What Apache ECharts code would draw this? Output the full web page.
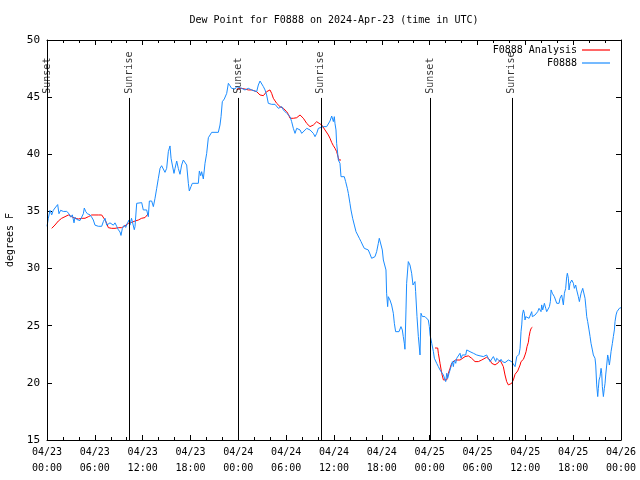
<!DOCTYPE html>
<html><head><meta charset="utf-8">
<script src="https://cdn.jsdelivr.net/npm/echarts@6/dist/echarts.min.js"></script>
<style>html,body{margin:0;padding:0;background:#fff}#c{width:640px;height:480px}</style>
</head><body><div id="c"></div>
<script>
const titleText = 'Dew Point for F0888 on 2024-Apr-23 (time in UTC)';
const yAxisName = 'degrees F';
const xTickLabels = ['04/23\n00:00','04/23\n06:00','04/23\n12:00','04/23\n18:00','04/24\n00:00','04/24\n06:00','04/24\n12:00','04/24\n18:00','04/25\n00:00','04/25\n06:00','04/25\n12:00','04/25\n18:00','04/26\n00:00'];
const seriesNames = ['F0888 Analysis', 'F0888'];
// hours since 04/23 00:00 UTC, dew point (F)
const obsData = [
[0,33.7],[0.17,34.4],[0.38,35.1],[0.59,34.7],[0.79,35.1],[1.0,35.3],[1.34,35.6],[1.5,34.8],[1.71,35.1],[2.05,35.0],[2.47,35.0],[2.76,34.8],[2.97,34.5],[3.18,34.7],[3.39,34.0],[3.51,34.5],[3.72,34.3],[3.93,34.4],[4.14,34.2],[4.35,34.5],[4.56,34.8],[4.68,35.3],[4.85,35.0],[5.06,34.8],[5.39,34.7],[5.6,34.5],[5.81,34.25],[6.02,33.8],[6.44,33.7],[6.86,33.7],[7.06,34.1],[7.28,34.4],[7.49,33.8],[7.69,33.7],[7.9,34.0],[8.11,34.1],[8.32,33.8],[8.53,34.0],[8.74,33.7],[8.95,33.4],[9.16,33.2],[9.28,32.9],[9.45,33.5],[9.7,33.8],[9.87,33.6],[10.1,34.0],[10.3,34.25],[10.4,33.8],[10.6,34.4],[10.8,34.3],[10.95,33.4],
[11.04,33.67],[11.25,35.71],[11.46,35.86],[11.88,35.77],[12.08,35.13],[12.29,34.98],[12.5,35.13],[12.71,34.54],[12.84,35.91],[13.13,35.91],[13.34,35.42],[13.55,36.15],[13.76,37.02],[13.97,37.9],[14.18,38.77],[14.38,39.0],[14.59,38.71],[14.8,38.42],[15.01,38.77],[15.22,40.23],[15.43,40.73],[15.56,39.65],[15.72,39.06],[15.93,38.33],[16.06,38.77],[16.27,39.41],[16.47,38.77],[16.68,38.25],[16.89,39.06],[17.1,39.5],[17.31,39.59],[17.52,39.06],[17.73,37.46],[17.85,36.79],[18.06,37.17],[18.23,37.46],[18.98,37.46],[19.11,38.54],[19.28,38.13],[19.4,38.48],[19.61,37.84],[19.82,39.21],[20.03,40.08],[20.24,41.45],[20.45,41.54],[20.66,41.92],[21.49,41.92],[21.7,42.56],[21.83,43.29],[21.99,44.6],[22.24,44.84],[22.41,44.9],[22.54,45.33],[22.75,46.21],[22.95,46.0],[23.16,45.77],[23.58,45.71],[23.79,45.92],[24.0,45.77],
[24.42,45.77],[24.83,45.63],[25.25,45.77],[25.67,45.63],[25.88,45.48],[26.3,45.48],[26.51,46.06],[26.72,46.41],[26.93,46.35],[27.14,45.92],[27.35,45.63],[27.55,45.19],[27.76,44.46],[28.18,44.37],[28.6,44.37],[28.81,44.46],[29.02,44.02],[29.23,44.02],[29.44,44.17],[29.65,43.88],[29.86,43.79],[30.07,43.58],[30.27,43.58],[30.49,43.29],[30.69,42.85],[30.9,42.27],[31.11,41.83],[31.32,42.27],[31.53,42.42],[31.74,42.13],[31.95,41.83],[32.16,41.83],[32.58,42.27],[32.78,42.27],[32.99,42.13],[33.2,42.13],[33.41,41.83],[33.62,41.54],[33.83,41.83],[34.04,42.27],[34.25,42.42],[34.66,42.42],[35.08,42.42],[35.29,42.56],[35.5,42.91],
[35.71,43.35],[35.79,43.44],[35.92,42.86],[36.04,43.29],[36.12,42.71],[36.25,42.13],[36.33,40.96],[36.46,40.08],[36.54,39.5],[36.75,39.21],[36.88,38.04],[36.96,37.9],[37.09,38.19],[37.29,38.04],[37.46,37.61],[37.67,37.02],[37.8,36.58],[38.0,35.71],[38.13,35.13],[38.34,34.4],[38.55,33.81],[38.76,33.23],[38.97,32.94],[39.18,32.65],[39.39,32.36],[39.59,32.06],[39.8,31.77],[40.01,31.69],[40.3,31.63],[40.51,31.28],[40.72,30.9],[40.93,30.9],[41.14,31.04],[41.35,31.48],[41.56,32.21],[41.68,32.65],[41.89,32.5],[42.06,31.63],[42.19,30.75],[42.4,30.81],[42.52,29.88],[42.6,27.84],[42.73,26.67],[42.81,27.54],[43.02,27.25],[43.23,26.81],[43.44,26.09],[43.57,25.21],[43.73,24.48],[43.94,24.34],[44.15,24.48],[44.4,24.92],[44.57,24.63],[44.69,24.05],[44.82,23.46],[44.9,22.94],[45.03,26.38],[45.11,28.71],[45.32,30.61],[45.53,30.31],[45.74,29.59],[45.91,28.56],[46.16,28.86],[46.24,27.98],[46.41,25.8],[46.58,24.05],[46.79,22.44],[46.91,26.09],[47.08,25.8],[47.41,25.8],[47.62,25.65],[47.83,25.5],[47.96,24.92],
[48.05,24.19],[48.26,23.46],[48.47,22.73],[48.59,22.15],[48.76,22.0],[48.88,21.71],[49.09,21.42],[49.3,21.13],[49.43,20.98],[49.51,21.13],[49.72,20.69],[49.93,20.55],[50.01,20.11],[50.14,20.84],[50.26,20.4],[50.43,20.84],[50.56,21.13],[50.68,21.42],[50.85,21.86],[50.97,21.42],[51.1,22.0],[51.27,21.71],[51.39,22.15],[51.6,22.3],[51.81,22.59],[51.94,22.15],[52.1,22.44],[52.23,22.59],[52.35,22.3],[52.52,22.44],[52.65,22.88],[52.85,22.94],[53.06,22.73],[53.27,22.73],[53.48,22.59],[53.69,22.53],[53.9,22.44],[54.11,22.44],[54.32,22.36],[54.53,22.44],[54.74,22.3],[54.95,22.36],[55.15,22.44],[55.36,22.15],[55.57,21.86],[55.78,22.0],[55.99,22.3],[56.2,22.15],[56.28,21.86],[56.41,22.15],[56.62,22.0],[56.83,21.86],[56.95,22.06],[57.12,21.86],[57.24,21.71],[57.45,21.77],[57.66,21.86],[57.87,22.0],[58.08,21.95],[58.29,21.86],[58.5,22.0],
[58.71,21.42],[58.92,22.29],[59.04,22.44],[59.13,22.15],[59.21,22.5],[59.34,23.02],[59.46,24.48],[59.55,25.07],[59.63,25.94],[59.76,26.38],[59.88,26.09],[59.96,25.5],[60.05,25.79],[60.17,25.65],[60.3,25.79],[60.47,25.65],[60.72,25.71],[60.8,26.23],[60.88,25.79],[61.01,25.94],[61.22,25.94],[61.43,26.09],[61.55,26.23],[61.72,26.52],[61.85,26.38],[61.97,26.23],[62.05,26.82],[62.18,26.38],[62.26,26.23],[62.39,26.96],[62.56,26.52],[62.68,26.23],[62.81,26.09],[62.89,26.38],[63.02,26.67],[63.14,27.11],[63.23,28.13],[63.31,28.27],[63.39,27.84],[63.52,27.98],[63.64,27.54],[63.73,27.69],[63.94,26.96],[64.06,26.96],[64.23,26.96],[64.35,27.4],[64.48,27.54],[64.56,27.69],[64.77,26.82],[64.9,27.84],[65.06,28.27],[65.19,29.29],[65.27,29.59],[65.4,29.15],[65.48,28.13],[65.61,28.71],[65.73,28.86],[65.82,29.0],[65.94,29.15],[66.03,28.71],[66.15,28.27],[66.32,28.56],[66.44,28.13],[66.57,27.98],[66.65,27.54],[66.78,27.11],[66.86,27.4],[66.99,27.84],[67.07,27.98],[67.2,28.27],[67.28,28.42],[67.41,28.13],[67.49,27.4],[67.61,26.52],[67.7,25.79],[67.82,25.36],[67.99,24.63],[68.12,24.05],[68.24,23.46],[68.41,22.88],[68.53,22.44],[68.66,22.29],[68.74,22.15],[68.83,21.56],[68.95,19.82],[69.08,18.8],[69.16,19.52],[69.25,20.25],[69.37,20.55],[69.5,21.27],[69.58,20.84],[69.66,19.67],[69.79,18.8],[69.91,19.52],[70.0,19.96],[70.08,20.69],[70.21,21.56],[70.33,22.44],[70.42,22.15],[70.54,21.56],[70.63,22.0],[70.75,22.73],[70.92,23.46],[71.04,24.05],[71.17,24.63],[71.25,25.36],[71.38,25.94],[71.5,26.23],[71.67,26.38],[71.79,26.52],[72.0,26.58]
];
const anaData = [
[0.59,33.52],[0.79,33.58],[1.0,33.81],[1.21,33.96],[1.42,34.16],[1.63,34.25],[1.84,34.4],[2.05,34.46],[2.26,34.54],[2.47,34.6],[2.68,34.69],[2.89,34.6],[3.09,34.54],[3.3,34.4],[3.51,34.4],[3.72,34.46],[3.93,34.34],[4.14,34.34],[4.35,34.4],[4.56,34.4],[4.77,34.4],[4.98,34.46],[5.19,34.54],[5.39,34.6],[5.6,34.69],[5.81,34.69],[6.02,34.69],[6.23,34.69],[6.44,34.69],[6.65,34.75],[6.86,34.69],[7.07,34.54],[7.28,34.25],[7.49,33.96],[7.69,33.58],[7.9,33.52],[8.11,33.52],[8.53,33.52],[8.74,33.52],[8.95,33.58],[9.16,33.52],[9.37,33.58],[9.58,33.58],[9.79,33.75],[10.0,33.87],[10.2,33.96],[10.41,33.96],[10.62,34.04],[10.83,34.1],[11.04,34.16],[11.25,34.25],[11.46,34.25],[11.67,34.31],[11.87,34.4],[12.08,34.4],[12.29,34.46],[12.5,34.6],[12.75,34.84],
[18,null],
[23.8,45.7],[24.42,45.77],[24.83,45.71],[25.25,45.63],[25.67,45.63],[25.88,45.54],[26.3,45.48],[26.72,45.19],[26.93,45.04],[27.14,45.13],[27.55,45.48],[27.97,45.63],[28.18,45.33],[28.39,44.9],[28.81,44.46],[29.23,44.17],[29.65,44.02],[30.07,43.73],[30.27,43.5],[30.49,43.15],[30.69,43.0],[30.9,43.15],[31.32,43.2],[31.74,43.44],[31.95,43.5],[32.16,43.15],[32.58,42.7],[32.99,42.42],[33.41,42.56],[33.83,42.85],[34.04,42.7],[34.46,42.56],[34.87,42.13],[35.29,41.69],[35.5,41.4],[35.71,41.03],[35.92,40.75],[36.12,40.53],[36.33,40.24],[36.54,39.7],[36.63,39.5],[36.88,39.5],
[42,null],
[48.67,23.05],[49.01,23.05],[49.09,22.59],[49.3,21.71],[49.51,20.84],[49.72,20.26],[49.93,20.11],[50.14,20.26],[50.35,20.84],[50.56,21.28],[50.76,21.71],[50.97,21.86],[51.18,22.0],[51.39,22.0],[51.81,22.0],[52.02,22.15],[52.44,22.3],[52.85,22.36],[53.06,22.3],[53.27,22.15],[53.48,22.0],[53.69,21.86],[53.9,21.77],[54.11,21.86],[54.53,22.0],[54.74,22.06],[55.15,22.24],[55.36,22.15],[55.57,22.0],[55.78,21.71],[55.99,21.57],[56.2,21.57],[56.41,21.71],[56.62,21.77],[56.83,22.0],[57.04,22.15],[57.24,21.42],[57.45,20.69],[57.66,20.11],[57.87,19.82],[58.08,19.82],[58.29,19.96],[58.5,20.26],[58.71,20.75],[58.92,20.84],[59.04,21.04],[59.21,21.21],[59.34,21.56],[59.46,21.86],[59.63,22.0],[59.76,22.06],[59.88,22.15],[59.96,22.44],[60.09,22.73],[60.21,23.17],[60.38,23.55],[60.47,24.05],[60.59,24.48],[60.72,24.77],[60.88,24.86]
];
const sunHours = [0, 10.3, 24.05, 34.35, 48.1, 58.3];
const sunNames = ['Sunset', 'Sunrise', 'Sunset', 'Sunrise', 'Sunset', 'Sunrise'];

const FONT = 'DejaVu Sans Mono';
const SUN_LINE_TOP = 44.93;
const SUN_LABEL_Y = 45.3;
const chart = echarts.init(document.getElementById('c'), null, {renderer: 'canvas'});
const axisBase = {
  type: 'value', min: 0, max: 72, interval: 6,
  axisLine: {show: true, onZero: false, lineStyle: {color: '#000', width: 1}},
  axisTick: {show: true, inside: true, length: 5, lineStyle: {color: '#000'}},
  minorTick: {show: true, splitNumber: 3, length: 3, lineStyle: {color: '#000'}},
  splitLine: {show: false}
};
const yBase = {
  type: 'value', min: 15, max: 50, interval: 5,
  axisLine: {show: true, onZero: false, lineStyle: {color: '#000', width: 1}},
  axisTick: {show: true, inside: true, length: 5, lineStyle: {color: '#000'}},
  splitLine: {show: false}
};
chart.setOption({
  animation: false,
  backgroundColor: '#fff',
  title: {text: titleText, left: 334, textAlign: 'center', top: 15, padding: 0,
    textStyle: {fontFamily: FONT, fontSize: 10, fontWeight: 'normal', color: '#000'}},
  legend: {
    data: seriesNames, orient: 'vertical', right: 30, top: 45, align: 'right', padding: 0,
    icon: 'rect', itemWidth: 28, itemHeight: 1.2, itemGap: 3,
    textStyle: {fontFamily: FONT, fontSize: 10, color: '#000'}
  },
  grid: {left: 47, right: 19, top: 40, bottom: 40, show: false, containLabel: false, outerBoundsMode: 'none'},
  xAxis: [
    Object.assign({}, axisBase, {position: 'bottom',
      axisLabel: {fontFamily: FONT, fontSize: 10, color: '#000', margin: 4, lineHeight: 16,
        formatter: v => xTickLabels[Math.round(v / 6)]}}),
    Object.assign({}, axisBase, {position: 'top', axisLabel: {show: false}})
  ],
  yAxis: [
    Object.assign({}, yBase, {position: 'left', name: yAxisName, nameLocation: 'middle', nameGap: 32,
      nameRotate: 90, nameTextStyle: {fontFamily: FONT, fontSize: 10, color: '#000'},
      axisLabel: {fontFamily: FONT, fontSize: 11, color: '#000', margin: 7}}),
    Object.assign({}, yBase, {position: 'right', axisLabel: {show: false}})
  ],
  series: [
    {
      name: seriesNames[0], type: 'line', data: anaData, showSymbol: false, connectNulls: false,
      lineStyle: {color: '#ff0000', width: 1}, itemStyle: {color: '#ff0000'}, z: 3
    },
    {
      name: seriesNames[1], type: 'line', data: obsData, showSymbol: false,
      lineStyle: {color: '#1a8cff', width: 1}, itemStyle: {color: '#1a8cff'}, z: 4
    },
    {
      name: 'sun', type: 'scatter', symbolSize: 0, silent: true, z: 5,
      data: sunHours.map((h, i) => ({value: [h, SUN_LABEL_Y], name: sunNames[i]})),
      label: {show: true, formatter: '{b}', rotate: 90, position: 'inside', align: 'left',
        verticalAlign: 'middle', fontFamily: FONT, fontSize: 10, color: '#000'},
      markLine: {
        silent: true, symbol: ['none', 'none'], label: {show: false},
        lineStyle: {color: '#000', type: 'solid', width: 1},
        data: sunHours.map(h => [{coord: [h, 15]}, {coord: [h, SUN_LINE_TOP]}])
      }
    }
  ]
});
</script></body></html>
